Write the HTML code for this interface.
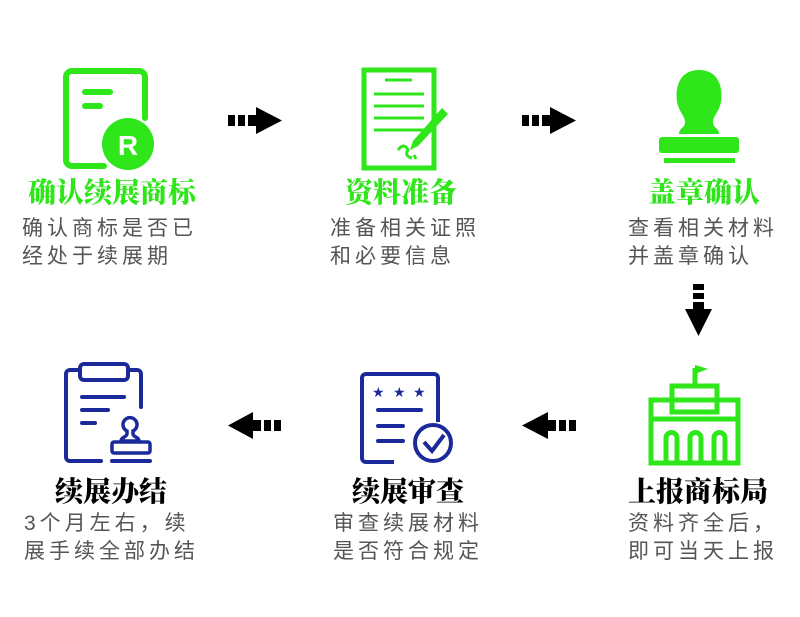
<!DOCTYPE html>
<html><head><meta charset="utf-8"><style>
body{margin:0;width:800px;height:617px;background:#fff;position:relative;overflow:hidden;font-family:"Liberation Sans","Noto Sans CJK SC",sans-serif}
.t{position:absolute;font-family:"Noto Serif CJK SC","Noto Sans CJK SC",serif;font-weight:900;font-size:28px;line-height:30px;white-space:nowrap}
.g{color:#2ee619}.k{color:#000}
.d{position:absolute;font-size:21px;line-height:28px;color:#555;letter-spacing:4px;white-space:nowrap}
svg{position:absolute;left:0;top:0}
</style></head><body>
<svg width="800" height="617" viewBox="0 0 800 617">
<g fill="none" stroke="#2ee619" stroke-width="6" stroke-linecap="round">
<path d="M104 166 H72 a6 6 0 0 1 -6 -6 V77 a6 6 0 0 1 6 -6 H139 a6 6 0 0 1 6 6 V118"/>
<path d="M85 92 H110 M85 106 H100"/>
</g>
<circle cx="128" cy="144" r="26" fill="#2ee619"/>
<text x="128" y="155" text-anchor="middle" font-family="Liberation Sans" font-weight="bold" font-size="28" fill="#fff">R</text>
<rect x="364" y="70" width="70" height="98" fill="none" stroke="#2ee619" stroke-width="5"/>
<g stroke="#2ee619" stroke-width="3"><path d="M385 80H412M374 94H424M374 106H424M374 118H424M374 130H424"/></g>
<path d="M442 108 L448 114 L418 146 L410 150 L413 141 Z" fill="#2ee619"/>
<path d="M398 150 q6 -8 10 0 q-4 6 4 8 M414 155 l2 4" fill="none" stroke="#2ee619" stroke-width="3"/>
<path d="M699 70 c-20 0 -24 18 -22 32 c2 10 8 14 8 20 c0 6 -6 6 -6 12 h40 c0 -6 -6 -6 -6 -12 c0 -6 6 -10 8 -20 c2 -14 -2 -32 -22 -32z" fill="#2ee619"/>
<rect x="659" y="137" width="80" height="16" rx="3" fill="#2ee619"/>
<rect x="664" y="158" width="71" height="5" fill="#2ee619"/>
<g fill="#000">
<rect x="228" y="115" width="7" height="11"/><rect x="238" y="115" width="7" height="11"/><rect x="248" y="115" width="8" height="11"/><path d="M256 107 L282 120.5 L256 134Z"/>
<rect x="522" y="115" width="7" height="11"/><rect x="532" y="115" width="7" height="11"/><rect x="542" y="115" width="8" height="11"/><path d="M550 107 L576 120.5 L550 134Z"/>
<rect x="693" y="284" width="11" height="6"/><rect x="693" y="293" width="11" height="6"/><rect x="693" y="302" width="11" height="7"/><path d="M685 309 L712 309 L698.5 336Z"/>
<rect x="274" y="420" width="7" height="11"/><rect x="264" y="420" width="7" height="11"/><rect x="253" y="420" width="8" height="11"/><path d="M253 412 L228 425.5 L253 439Z"/>
<rect x="569" y="420" width="7" height="11"/><rect x="559" y="420" width="7" height="11"/><rect x="548" y="420" width="8" height="11"/><path d="M548 412 L522 425.5 L548 439Z"/>
</g>
<g fill="none" stroke="#1a2a9a" stroke-width="4" stroke-linecap="round">
<path d="M101 461 H70 a4 4 0 0 1 -4 -4 V374 a4 4 0 0 1 4 -4 H79 M129 370 H137 a4 4 0 0 1 4 4 V407"/>
<rect x="80" y="364" width="48" height="16" rx="4"/>
<path d="M82 397 H124 M82 410 H108 M82 423 H95"/>
<path d="M112 461 H150"/>
<path d="M127 431 a7 7 0 1 1 6 0 v3 c0 3 6 3 6 7 h-18 c0 -4 6 -4 6 -7z" stroke-width="3.5"/>
<rect x="112" y="442" width="38" height="11" rx="2" stroke-width="3.5"/>
</g>
<path d="M394 462 H366 a4 4 0 0 1 -4 -4 V378 a4 4 0 0 1 4 -4 H434 a4 4 0 0 1 4 4 V422" fill="none" stroke="#1a2a9a" stroke-width="4"/>
<g fill="#1a2a9a" font-size="14" font-family="DejaVu Sans"><text x="372" y="397">★</text><text x="393" y="397">★</text><text x="413" y="397">★</text></g>
<g stroke="#1a2a9a" stroke-width="4" stroke-linecap="round"><path d="M378 410H421M378 426H403M378 441H403"/></g>
<circle cx="433" cy="443" r="18" fill="#fff" stroke="#1a2a9a" stroke-width="4"/>
<path d="M424 442 L432 451 L444 435" fill="none" stroke="#1a2a9a" stroke-width="4"/>
<g fill="none" stroke="#2ee619" stroke-width="5">
<path d="M695 386 V368"/><path d="M695 366 l10 3 l-10 4" fill="#2ee619" stroke-width="2"/>
<rect x="672" y="386" width="45" height="26"/>
<rect x="651" y="400" width="87" height="63"/>
<path d="M651 419 H738"/>
<path d="M666 463 V438 a5.5 5.5 0 0 1 11 0 V463 M690 463 V438 a5.5 5.5 0 0 1 11 0 V463 M714 463 V438 a5.5 5.5 0 0 1 11 0 V463"/>
</g>
</svg>
<div class="t g" style="left:28px;top:176px">确认续展商标</div>
<div class="t g" style="left:345px;top:176px">资料准备</div>
<div class="t g" style="left:648px;top:176px">盖章确认</div>
<div class="d" style="left:22px;top:215px">确认商标是否已<br>经处于续展期</div>
<div class="d" style="left:330px;top:215px">准备相关证照<br>和必要信息</div>
<div class="d" style="left:628px;top:215px">查看相关材料<br>并盖章确认</div>
<div class="t k" style="left:55px;top:475px">续展办结</div>
<div class="t k" style="left:352px;top:475px">续展审查</div>
<div class="t k" style="left:628px;top:475px">上报商标局</div>
<div class="d" style="left:24px;top:510px">3个月左右，续<br>展手续全部办结</div>
<div class="d" style="left:333px;top:510px">审查续展材料<br>是否符合规定</div>
<div class="d" style="left:628px;top:510px">资料齐全后，<br>即可当天上报</div>
</body></html>
